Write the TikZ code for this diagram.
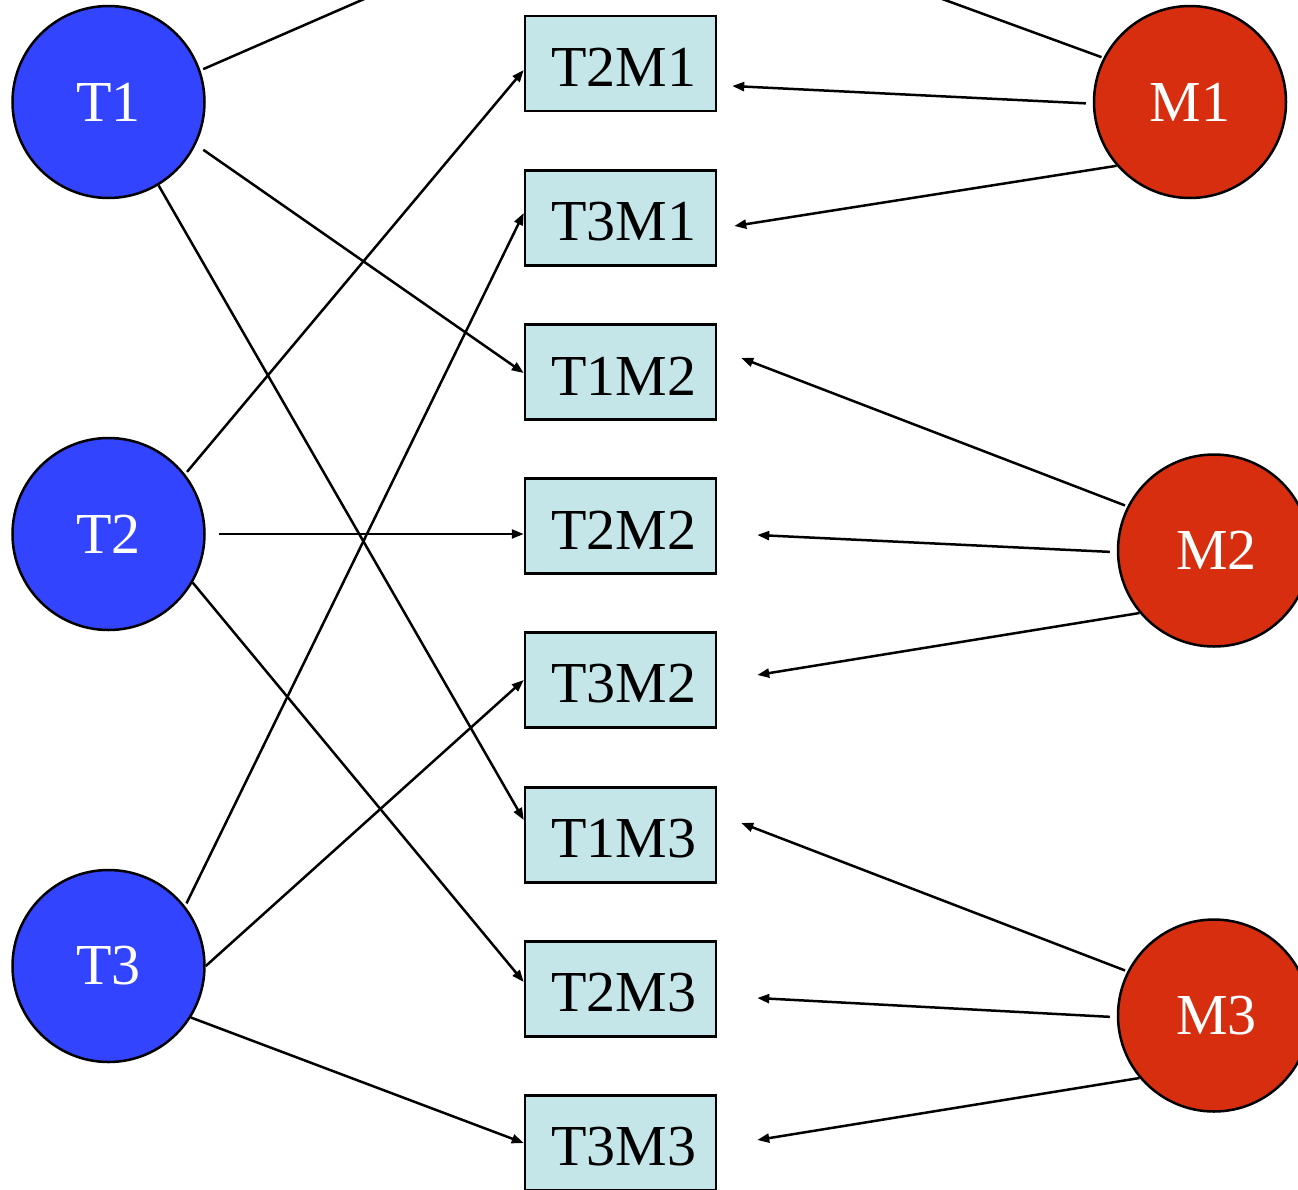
\documentclass[tikz,border=0pt]{standalone}
\usepackage{fontspec}
\setmainfont{Liberation Serif}
\usetikzlibrary{arrows.meta}
\definecolor{tblue}{RGB}{51,68,255}
\definecolor{mred}{RGB}{214,46,15}
\definecolor{pairfill}{RGB}{197,230,232}
\begin{document}
\begin{tikzpicture}[x=1pt,y=-1pt,
  lbl/.style={font=\fontsize{58}{60}\selectfont},
  tnode/.style={circle,draw=black,line width=2.5pt,fill=tblue,text=white,minimum size=192pt,inner sep=0pt,lbl},
  mnode/.style={circle,draw=black,line width=2.5pt,fill=mred,text=white,minimum size=192pt,inner sep=0pt,lbl},
  pair/.style={rectangle,draw=black,line width=2.5pt,fill=pairfill,minimum width=191pt,minimum height=95pt,inner sep=0pt,lbl},
  link/.style={line width=2.5pt,-{Triangle[length=12pt,width=9pt]}}]
\useasboundingbox (0,0) rectangle (1298,1189);
\clip (0,0) rectangle (1298,1189);

% task and machine circles
\node[tnode] (T1) at (108.5,102) {\raisebox{-4pt}{T1}};
\node[tnode] (T2) at (108.5,534) {\raisebox{-4pt}{T2}};
\node[tnode] (T3) at (108.5,966) {\raisebox{-4pt}{T3}};
\node[mnode] (M1) at (1190,102) {\raisebox{-4pt}{M1}};
\node[mnode] (M2) at (1214,550.5) {\hspace*{5pt}\raisebox{-4pt}{M2}};
\node[mnode] (M3) at (1214,1015.5) {\hspace*{5pt}\raisebox{-4pt}{M3}};

% pair boxes (the first one lies above the visible area)
\node[pair] (T1M1) at (620.5,-90.5) {};
\node[pair] (T2M1) at (620.5,63.5) {};
\node[pair] (T3M1) at (620.5,218) {};
\node[pair] (T1M2) at (620.5,372) {};
\node[pair] (T2M2) at (620.5,526) {};
\node[pair] (T3M2) at (620.5,680) {};
\node[pair] (T1M3) at (620.5,835) {};
\node[pair] (T2M3) at (620.5,989) {};
\node[pair] (T3M3) at (620.5,1143) {};
\foreach \n in {T2M1,T3M1,T1M2,T2M2,T3M2,T1M3,T2M3,T3M3}
  \node[lbl,xshift=3pt,yshift=-4pt] (\n-text) at (\n) {\n};

% task links
\draw[link,shorten <=3pt] (T1.19.6) -- ([yshift=-20pt]T1M1.west);
\draw[link,shorten <=9pt] (T1.-26.7) -- ([yshift=-1pt]T1M2.west);
\draw[link] (T1.-59.1) -- ([yshift=15pt]T1M3.west);
\draw[link,shorten <=3pt] (T2.38.4) -- ([yshift=-6.5pt]T2M1.west);
\draw[link,shorten <=13pt] (T2.0) -- ([yshift=-8pt]T2M2.west);
\draw[link] (T2.-30.8) -- ([yshift=7pt]T2M3.west);
\draw[link,shorten <=3pt] (T3.38.4) -- ([yshift=5pt]T3M1.west);
\draw[link] (T3.0) -- (T3M2.west);
\draw[link] (T3.-32) -- (T3M3.west);

% machine links
\draw[link,shorten <=2pt] (M1.153.4) -- ([xshift=17pt,yshift=-13.5pt]T1M1.east);
\draw[link,shorten <=7pt] (M1.181) -- ([xshift=15pt,yshift=-22.5pt]T2M1.east);
\draw[link] (M1.221.2) -- ([xshift=17pt,yshift=-8pt]T3M1.east);
\draw[link,shorten <=2.5pt] (M2.153.2) -- ([xshift=24pt,yshift=14pt]T1M2.east);
\draw[link,shorten <=7pt] (M2.181.4) -- ([xshift=40pt,yshift=-9pt]T2M2.east);
\draw[link] (M2.220.6) -- ([xshift=40pt,yshift=5pt]T3M2.east);
\draw[link,shorten <=2.5pt] (M3.153.2) -- ([xshift=24pt,yshift=12pt]T1M3.east);
\draw[link,shorten <=7pt] (M3.181.4) -- ([xshift=40pt,yshift=-9pt]T2M3.east);
\draw[link] (M3.220.6) -- ([xshift=40pt,yshift=3pt]T3M3.east);
\end{tikzpicture}
\end{document}
